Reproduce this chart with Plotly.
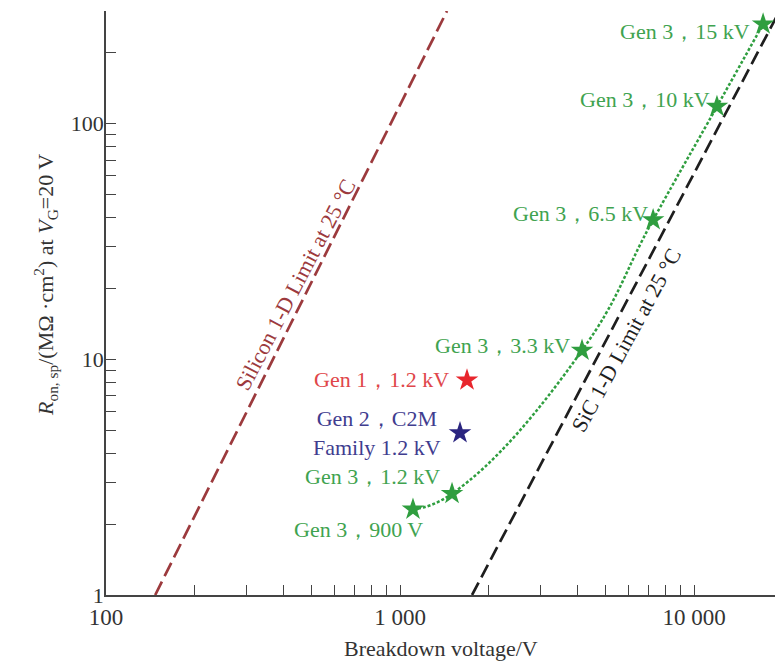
import math
import plotly.graph_objects as go

# ---------------- data ----------------
gen3_labels = ["Gen 3，900 V", "Gen 3，1.2 kV", "Gen 3，3.3 kV", "Gen 3，6.5 kV", "Gen 3，10 kV", "Gen 3，15 kV"]
gen3_bv = [1107, 1503, 4160, 7260, 11970, 17180]
gen3_ron = [2.31, 2.69, 10.9, 39.0, 118, 264]

gen1_label = "Gen 1，1.2 kV"
gen1_bv = [1690]
gen1_ron = [8.15]

gen2_label = "Gen 2，C2M<br>Family 1.2 kV"
gen2_bv = [1600]
gen2_ron = [4.87]

si_limit_bv = [147, 1445]
si_limit_ron = [1, 300]
si_label = "Silicon 1-D Limit at 25 °C"

sic_limit_bv = [1758, 19540]
sic_limit_ron = [1, 300]
sic_label = "SiC 1-D Limit at 25 °C"

x_major = [100, 1000, 10000]
x_major_text = ["100", "1 000", "10 000"]
y_major = [1, 10, 100]
y_major_text = ["1", "10", "100"]

x_title = "Breakdown voltage/V"
y_title = "<i>R</i><sub>on, sp</sub>/(MΩ ·cm<sup>2</sup>) at <i>V</i><sub>G</sub>=20 V"

# ---------------- styles ----------------
FONT = "Liberation Serif"
GREEN_STAR = "#2f9e3f"
GREEN_TXT = "#3fa350"
RED_STAR = "#e8262d"
RED_TXT = "#e0464a"
BLUE_STAR = "#2b2580"
BLUE_TXT = "#3f3d8f"
BROWN = "#9c3a3d"
BLACK = "#1e1e1e"
AXIS = "#444444"

W, H = 775, 663
ML, MR, MT, MB = 106, 0, 11, 68

def minor_list(lo_dec, hi_val):
    vals = []
    d = lo_dec
    while True:
        for k in range(2, 10):
            v = k * 10 ** d
            if v > hi_val * 1.0001:
                return vals
            vals.append(v)
        d += 1

x_hi = 10 ** 4.2755
y_hi = 300
x_minor = minor_list(2, x_hi)
y_minor = minor_list(0, y_hi)

fig = go.Figure()

# limit lines
fig.add_trace(go.Scatter(x=si_limit_bv, y=si_limit_ron, mode="lines",
                         line=dict(color=BROWN, width=2.7, dash="15px,6px"),
                         showlegend=False, hoverinfo="skip"))
fig.add_trace(go.Scatter(x=sic_limit_bv, y=sic_limit_ron, mode="lines",
                         line=dict(color=BLACK, width=2.7, dash="14px,6px"),
                         showlegend=False, hoverinfo="skip"))

# Gen 3 curve
fig.add_trace(go.Scatter(x=gen3_bv, y=gen3_ron, mode="lines",
                         line=dict(color=GREEN_STAR, width=2.5, dash="3px,2px",
                                   shape="spline", smoothing=1.3),
                         showlegend=False, hoverinfo="skip"))
fig.add_trace(go.Scatter(x=gen3_bv, y=gen3_ron, mode="markers", cliponaxis=False,
                         marker=dict(symbol="star", size=17, color=GREEN_STAR,
                                     line=dict(width=0)),
                         showlegend=False))
fig.add_trace(go.Scatter(x=gen1_bv, y=gen1_ron, mode="markers", cliponaxis=False,
                         marker=dict(symbol="star", size=17, color=RED_STAR,
                                     line=dict(width=0)),
                         showlegend=False))
fig.add_trace(go.Scatter(x=gen2_bv, y=gen2_ron, mode="markers", cliponaxis=False,
                         marker=dict(symbol="star", size=17, color=BLUE_STAR,
                                     line=dict(width=0)),
                         showlegend=False))

annotations = []
g3_offsets = [(12, -20), (-10, 17), (-10, 5), (-3, 6), (-5, 7), (-11, -7)]
for lbl, xv, yv, (dx, dy) in zip(gen3_labels, gen3_bv, gen3_ron, g3_offsets):
    annotations.append(dict(x=math.log10(xv), y=math.log10(yv), xref="x", yref="y",
                            text=lbl, showarrow=False, xanchor="right", yanchor="middle",
                            xshift=dx, yshift=dy,
                            font=dict(family=FONT, size=22, color=GREEN_TXT)))
annotations.append(dict(x=math.log10(gen1_bv[0]), y=math.log10(gen1_ron[0]), xref="x", yref="y",
                        text=gen1_label, showarrow=False, xanchor="right", yanchor="middle",
                        xshift=-16, yshift=1,
                        font=dict(family=FONT, size=22, color=RED_TXT)))
annotations.append(dict(x=math.log10(gen2_bv[0]), y=math.log10(gen2_ron[0]), xref="x", yref="y",
                        text=gen2_label, showarrow=False, xanchor="right", yanchor="middle",
                        align="center", xshift=-17, yshift=0,
                        font=dict(family=FONT, size=22, color=BLUE_TXT)))

def point_on_line(bv, ron, r):
    lx0, lx1 = math.log10(bv[0]), math.log10(bv[1])
    ly0, ly1 = math.log10(ron[0]), math.log10(ron[1])
    t = (math.log10(r) - ly0) / (ly1 - ly0)
    return lx0 + t * (lx1 - lx0), math.log10(r)

sx, sy = point_on_line(si_limit_bv, si_limit_ron, 20.8)
annotations.append(dict(x=sx, y=sy, xref="x", yref="y", text=si_label, showarrow=False,
                        textangle=-62.5, xanchor="center", yanchor="middle", xshift=-15,
                        font=dict(family=FONT, size=22, color=BROWN)))
cx, cy = point_on_line(sic_limit_bv, sic_limit_ron, 12.0)
annotations.append(dict(x=cx, y=cy, xref="x", yref="y", text=sic_label, showarrow=False,
                        textangle=-61.5, xanchor="center", yanchor="middle", xshift=20,
                        font=dict(family=FONT, size=22, color=BLACK)))

plot_h = H - MT - MB
annotations.append(dict(x=0.5, y=0, xref="paper", yref="paper", text=x_title, showarrow=False,
                        xanchor="center", yanchor="middle", yshift=-53,
                        font=dict(family=FONT, size=22, color="#333333")))
annotations.append(dict(x=0, y=(595 - 285) / plot_h, xref="paper", yref="paper", text=y_title,
                        showarrow=False, textangle=-90, xanchor="center", yanchor="middle",
                        xshift=-61,
                        font=dict(family=FONT, size=22, color="#333333")))

axis_common = dict(type="log", showgrid=False, zeroline=False, showline=True,
                   linecolor=AXIS, linewidth=1.6, ticks="inside", ticklen=10,
                   tickwidth=1.4, tickcolor=AXIS, tickmode="array", mirror=False)
minor_common = dict(ticks="inside", ticklen=10, tickwidth=1.4, tickcolor=AXIS, showgrid=False)

fig.update_layout(
    width=W, height=H, autosize=False,
    margin=dict(l=ML, r=MR, t=MT, b=MB, pad=0),
    paper_bgcolor="white", plot_bgcolor="white",
    font=dict(family=FONT, size=22, color="#333333"),
    xaxis=dict(range=[2, math.log10(x_hi)], tickvals=x_major, ticktext=x_major_text,
               ticklabelstandoff=1, minor=dict(tickvals=x_minor, **minor_common),
               tickfont=dict(family=FONT, size=23, color="#333333"), **axis_common),
    yaxis=dict(range=[0, math.log10(y_hi)], tickvals=y_major, ticktext=y_major_text,
               ticklabelstandoff=-4, minor=dict(tickvals=y_minor, **minor_common),
               tickfont=dict(family=FONT, size=22, color="#333333"), **axis_common),
    annotations=annotations,
    showlegend=False,
)

fig.write_html("out.html")
